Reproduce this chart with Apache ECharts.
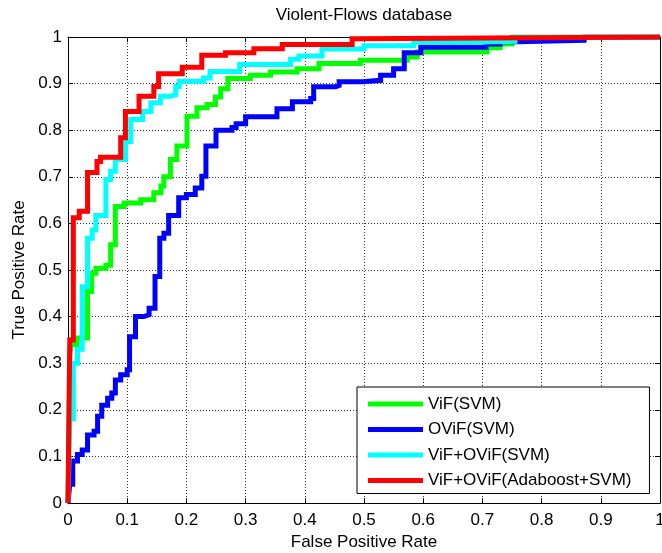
<!DOCTYPE html>
<html>
<head>
<meta charset="utf-8">
<script src="https://cdn.jsdelivr.net/npm/echarts@6/dist/echarts.min.js"></script>
<style>
html,body{margin:0;padding:0;background:#fff;overflow:hidden;width:662px;height:553px;}
#chart{width:662px;height:553px;position:absolute;left:0;top:0;}
</style>
</head>
<body>
<div id="chart"></div>
<script>
// ---- Data ----
var titleText = 'Violent-Flows database';
var xName = 'False Positive Rate';
var yName = 'True Positive Rate';
var seriesNames = ['ViF(SVM)', 'OViF(SVM)', 'ViF+OViF(SVM)', 'ViF+OViF(Adaboost+SVM)'];
var seriesColors = ['#00ff00', '#0000ff', '#00ffff', '#ff0000'];

var vifFpr = [0, 0.003, 0.005, 0.015, 0.033, 0.040, 0.047, 0.064, 0.072, 0.080, 0.095, 0.123, 0.145, 0.157, 0.162, 0.173, 0.184, 0.201, 0.218, 0.235, 0.249, 0.258, 0.270, 0.308, 0.342, 0.387, 0.424, 0.494, 0.573, 0.590, 0.708, 0.730, 0.750, 1];
var vifTpr = [0, 0.314, 0.340, 0.354, 0.454, 0.493, 0.504, 0.510, 0.554, 0.636, 0.644, 0.651, 0.666, 0.680, 0.700, 0.737, 0.766, 0.830, 0.848, 0.855, 0.871, 0.889, 0.911, 0.918, 0.925, 0.932, 0.943, 0.950, 0.957, 0.968, 0.977, 0.985, 1.0, 1.0];

var oviFpr = [0, 0.003, 0.008, 0.016, 0.024, 0.033, 0.044, 0.050, 0.057, 0.067, 0.074, 0.080, 0.089, 0.100, 0.104, 0.114, 0.128, 0.137, 0.147, 0.155, 0.162, 0.170, 0.187, 0.200, 0.215, 0.226, 0.233, 0.250, 0.277, 0.284, 0.300, 0.353, 0.379, 0.410, 0.415, 0.452, 0.458, 0.497, 0.528, 0.550, 0.568, 0.596, 0.706, 0.730, 0.759, 0.872, 0.873, 1];
var oviTpr = [0, 0.040, 0.090, 0.104, 0.114, 0.146, 0.154, 0.186, 0.210, 0.225, 0.236, 0.264, 0.275, 0.286, 0.357, 0.400, 0.404, 0.418, 0.486, 0.568, 0.579, 0.617, 0.655, 0.662, 0.676, 0.701, 0.766, 0.800, 0.806, 0.814, 0.829, 0.846, 0.861, 0.868, 0.893, 0.896, 0.904, 0.907, 0.918, 0.932, 0.966, 0.978, 0.985, 0.990, 0.993, 0.993, 1.0, 1.0];

var comboFpr = [0, 0.003, 0.009, 0.016, 0.024, 0.033, 0.041, 0.047, 0.064, 0.072, 0.080, 0.097, 0.106, 0.126, 0.140, 0.156, 0.173, 0.182, 0.188, 0.229, 0.240, 0.290, 0.376, 0.390, 0.429, 0.500, 0.584, 0.690, 0.755, 1];
var comboTpr = [0, 0.180, 0.300, 0.330, 0.464, 0.568, 0.586, 0.617, 0.694, 0.712, 0.737, 0.776, 0.823, 0.840, 0.859, 0.873, 0.876, 0.894, 0.905, 0.912, 0.926, 0.941, 0.952, 0.959, 0.974, 0.981, 0.989, 0.991, 1.0, 1.0];

var adaFpr = [0, 0.003, 0.009, 0.019, 0.033, 0.049, 0.055, 0.089, 0.097, 0.120, 0.145, 0.153, 0.193, 0.226, 0.266, 0.314, 0.362, 0.480, 0.490, 1];
var adaTpr = [0, 0.350, 0.612, 0.626, 0.709, 0.733, 0.742, 0.784, 0.840, 0.873, 0.894, 0.921, 0.935, 0.961, 0.966, 0.975, 0.984, 0.996, 1.0, 1.0];

var tickValues = [0, 0.1, 0.2, 0.3, 0.4, 0.5, 0.6, 0.7, 0.8, 0.9, 1];

// ---- Build ----
function zip(xs, ys) { return xs.map(function (x, i) { return [x, ys[i]]; }); }
var allData = [zip(vifFpr, vifTpr), zip(oviFpr, oviTpr), zip(comboFpr, comboTpr), zip(adaFpr, adaTpr)];

var FONT = 'Liberation Sans, Arial, Helvetica, sans-serif';
var fmt = function (v) { var r = Math.round(v * 10) / 10; return String(r); };

var chart = echarts.init(document.getElementById('chart'), null, {renderer: 'canvas', width: 662, height: 553});

function valueAxis(pos, showLabel, extra) {
  var a = {
    type: 'value', position: pos, min: 0, max: 1, interval: 0.1,
    axisLine: {show: true, onZero: false, lineStyle: {color: '#000', width: 1}},
    axisTick: {show: true, inside: true, length: 5, lineStyle: {color: '#000', width: 1}},
    axisLabel: {show: showLabel, color: '#000', fontSize: 17, fontFamily: FONT, formatter: fmt},
    splitLine: {show: showLabel, lineStyle: {color: '#333', type: [1, 2], width: 1}}
  };
  for (var k in extra) a[k] = extra[k];
  return a;
}

var series = seriesNames.map(function (n, i) {
  return {
    name: n, type: 'line', step: 'end', data: allData[i],
    showSymbol: false, symbol: 'none', animation: false,
    lineStyle: {color: seriesColors[i], width: 5, join: 'miter'},
    itemStyle: {color: seriesColors[i]},
    xAxisIndex: 0, yAxisIndex: 0, z: 2 + i, clip: true
  };
});

var option = {
  backgroundColor: '#fff',
  animation: false,
  title: {
    text: titleText, left: 364, top: 7, padding: 0, textAlign: 'center',
    textStyle: {fontSize: 17, fontWeight: 'normal', color: '#000', fontFamily: FONT}
  },
  grid: {left: 68, right: 2, top: 37, bottom: 50, containLabel: false, outerBoundsMode: 'none'},
  xAxis: [
    valueAxis('bottom', true, {name: xName, nameLocation: 'middle', nameGap: 31,
      axisLabel: {show: true, color: '#000', fontSize: 17, fontFamily: FONT, formatter: fmt, margin: 9},
      nameTextStyle: {fontSize: 17, color: '#000', fontFamily: FONT}}),
    valueAxis('top', false, {})
  ],
  yAxis: [
    valueAxis('left', true, {name: yName, nameLocation: 'middle', nameGap: 38,
      axisLabel: {show: true, color: '#000', fontSize: 17, fontFamily: FONT, formatter: fmt, margin: 6},
      nameTextStyle: {fontSize: 17, color: '#000', fontFamily: FONT}}),
    valueAxis('right', false, {})
  ],
  legend: {
    orient: 'vertical', left: 357, top: 387,
    data: seriesNames.map(function (n) { return {name: n, icon: 'rect'}; }),
    itemWidth: 55, itemHeight: 5, itemGap: 7.5,
    padding: [8, 18, 4, 11],
    backgroundColor: '#fff', borderColor: '#000', borderWidth: 1,
    textStyle: {fontSize: 17, color: '#000', fontFamily: FONT, lineHeight: 18},
    selectedMode: false
  },
  series: series
};
chart.setOption(option);
</script>
</body>
</html>
